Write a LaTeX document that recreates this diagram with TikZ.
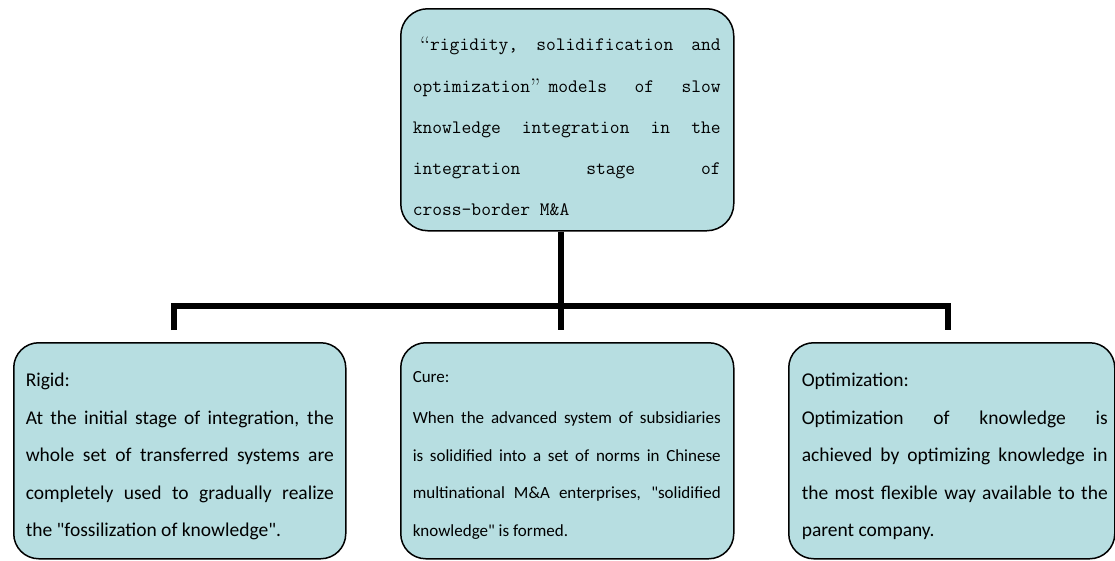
\documentclass[tikz,border=0pt]{standalone}
\usepackage{fontspec}
\newfontfamily\carl{Carlito}
\definecolor{boxfill}{HTML}{B7DEE1}
\tikzset{
  card/.style={draw=black, line width=1.5pt, fill=boxfill, rounded corners=25pt, inner sep=0pt, anchor=north west},
  conn/.style={draw=black, line width=6pt},
}
% #1 left margin, #2 text width, #3 right margin, #4 height, #5 font setup, #6 content
\newcommand\cardtext[6]{\hspace*{#1}\parbox[c][#4][t]{#2}{\parindent0pt\parskip0pt\lineskiplimit-100pt #5#6}\hspace*{#3}}
\newcommand\jl[1]{\makebox[\linewidth][s]{#1}\par}
\newcommand\firststrut[1]{\rule{0pt}{#1}}
\newcommand\myopenq{\raisebox{-3pt}{\rmfamily\fontsize{24pt}{24pt}\selectfont “}}
\newcommand\mycloseq{\raisebox{-3pt}{\rmfamily\fontsize{24pt}{24pt}\selectfont ”}}
\begin{document}
\begin{tikzpicture}[x=1pt,y=-1pt]
\useasboundingbox (0,0) rectangle (1115,560);

\node[card, rounded corners=27pt] (top) at (400,8) {\cardtext{12pt}{308pt}{13pt}{222pt}{\ttfamily\fontsize{19pt}{41.3pt}\selectfont}{%
\firststrut{42pt}\makebox[\linewidth][s]{\hspace*{7pt}\myopenq rigidity,\hfill solidification\hfill and}\par
\makebox[\linewidth][s]{optimization\mycloseq\hspace*{8pt}models\hfill of\hfill slow}\par
\makebox[\linewidth][s]{knowledge\hfill integration\hfill in\hfill the}\par
\makebox[\linewidth][s]{integration\hfill stage\hfill of}\par
cross-border M\&A\par}};

\node[card] (rigid) at (13,342) {\cardtext{12pt}{308pt}{12pt}{216pt}{\carl\fontsize{19.5pt}{37.5pt}\selectfont}{%
\firststrut{44pt}Rigid:\par
\jl{At the initial stage of integration, the}
\jl{whole set of transferred systems are}
\jl{completely used to gradually realize}
the "fossilization of knowledge".\par}};

\node[card] (cure) at (400,342) {\cardtext{12pt}{308pt}{13pt}{216pt}{\carl\fontsize{17pt}{37.5pt}\selectfont}{%
\firststrut{40pt}Cure:\par\vspace{3.5pt}
\jl{When the advanced system of subsidiaries}
\jl{is solidified into a set of norms in Chinese}
\jl{multinational M\&A enterprises, "solidified}
knowledge" is formed.\par}};

\node[card] (opt) at (788,342) {\cardtext{13pt}{306pt}{7pt}{216pt}{\carl\fontsize{19.5pt}{37.5pt}\selectfont}{%
\firststrut{44pt}Optimization:\par
\jl{Optimization of knowledge is}
\jl{achieved by optimizing knowledge in}
\jl{the most flexible way available to the}
parent company.\par}};

\coordinate (jL) at (174,330);
\coordinate (jM) at (561,330);
\coordinate (jR) at (948,330);
\coordinate (bar) at (561,306);

\draw[conn] (jM |- top.south) -- (jM);
\draw[conn] (jL) -- (jL |- bar) -- (jR |- bar) -- (jR);
\end{tikzpicture}
\end{document}
